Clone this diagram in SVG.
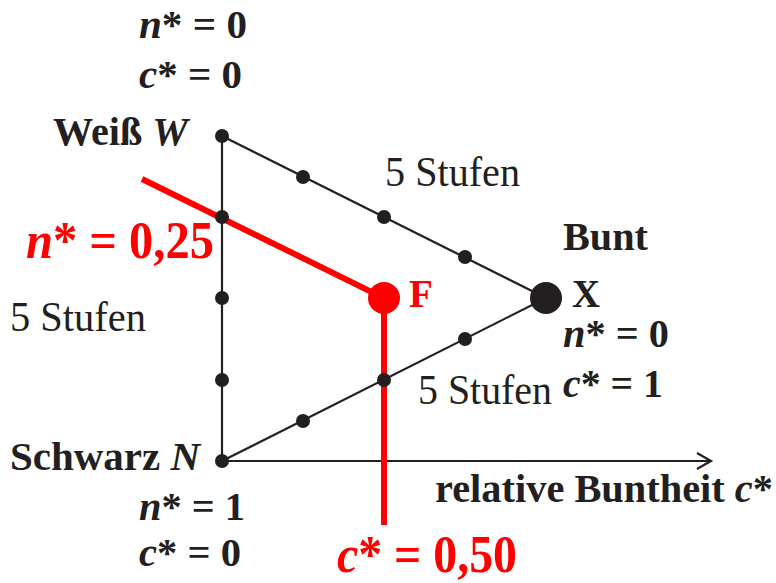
<svg xmlns="http://www.w3.org/2000/svg" width="776" height="583" viewBox="0 0 776 583">
<style>
.b{font-family:"Liberation Serif","Times New Roman",serif;font-weight:bold;fill:#231f20;font-size:40px}
.r{font-family:"Liberation Serif","Times New Roman",serif;fill:#231f20;font-size:42px}
.red{fill:#ff0000;font-size:53px}
.i{font-style:italic}
.edge{stroke:#231f20;stroke-width:2.2;fill:none}
.dot{fill:#231f20}
</style>
<rect width="776" height="583" fill="#fff"/>
<g id="connectors">
<line class="edge" x1="222" y1="136" x2="222" y2="461"/>
<line class="edge" x1="222" y1="136" x2="546" y2="298"/>
<line class="edge" x1="222" y1="461" x2="546" y2="298"/>
<line class="edge" x1="222" y1="461" x2="711" y2="461"/>
<polyline class="edge" points="697,453 711,461 697,469"/>
<polyline points="142,179 384,298 384,525" fill="none" stroke="#ff0000" stroke-width="6"/>
</g>
<g id="dots">
<circle class="dot" cx="222" cy="136" r="7"/>
<circle class="dot" cx="222" cy="217" r="7"/>
<circle class="dot" cx="222" cy="298" r="7"/>
<circle class="dot" cx="222" cy="380" r="7"/>
<circle class="dot" cx="222" cy="461" r="7"/>
<circle class="dot" cx="303" cy="177" r="7"/>
<circle class="dot" cx="384" cy="217" r="7"/>
<circle class="dot" cx="465" cy="257" r="7"/>
<circle class="dot" cx="303" cy="421" r="7"/>
<circle class="dot" cx="384" cy="380" r="7"/>
<circle class="dot" cx="465" cy="339" r="7"/>
</g>
<g id="node-W">
<text class="b" x="139" y="38" textLength="108" lengthAdjust="spacingAndGlyphs"><tspan class="i">n</tspan>* = 0</text>
<text class="b" x="139" y="88" textLength="103" lengthAdjust="spacingAndGlyphs"><tspan class="i">c</tspan>* = 0</text>
<text class="b" x="53" y="145" textLength="135" lengthAdjust="spacingAndGlyphs">Weiß <tspan class="i">W</tspan></text>
</g>
<g id="node-X">
<circle class="dot" cx="546" cy="298" r="16"/>
<text class="b" x="563" y="250" textLength="85" lengthAdjust="spacingAndGlyphs">Bunt</text>
<text class="b" x="572" y="307" textLength="28" lengthAdjust="spacingAndGlyphs">X</text>
<text class="b" x="563" y="347" textLength="106" lengthAdjust="spacingAndGlyphs"><tspan class="i">n</tspan>* = 0</text>
<text class="b" x="563" y="397" textLength="100" lengthAdjust="spacingAndGlyphs"><tspan class="i">c</tspan>* = 1</text>
</g>
<g id="node-N">
<text class="b" x="10" y="470" textLength="190" lengthAdjust="spacingAndGlyphs">Schwarz <tspan class="i">N</tspan></text>
<text class="b" x="139" y="520" textLength="106" lengthAdjust="spacingAndGlyphs"><tspan class="i">n</tspan>* = 1</text>
<text class="b" x="139" y="566" textLength="102" lengthAdjust="spacingAndGlyphs"><tspan class="i">c</tspan>* = 0</text>
</g>
<g id="node-F">
<circle cx="384" cy="298" r="16" fill="#ff0000"/>
<text class="b red" x="409" y="307" style="font-size:40px" textLength="24" lengthAdjust="spacingAndGlyphs">F</text>
<text class="b red" x="26" y="258" textLength="188" lengthAdjust="spacingAndGlyphs"><tspan class="i">n</tspan>* = 0,25</text>
<text class="b red" x="337" y="572" textLength="180" lengthAdjust="spacingAndGlyphs"><tspan class="i">c</tspan>* = 0,50</text>
</g>
<g id="labels">
<text class="r" x="385" y="186" textLength="135" lengthAdjust="spacingAndGlyphs">5 Stufen</text>
<text class="r" x="10" y="331" textLength="136" lengthAdjust="spacingAndGlyphs">5 Stufen</text>
<text class="r" x="418" y="404" textLength="134" lengthAdjust="spacingAndGlyphs">5 Stufen</text>
<text class="b" x="435" y="502" textLength="338" lengthAdjust="spacingAndGlyphs">relative Buntheit <tspan class="i">c</tspan>*</text>
</g>
</svg>
